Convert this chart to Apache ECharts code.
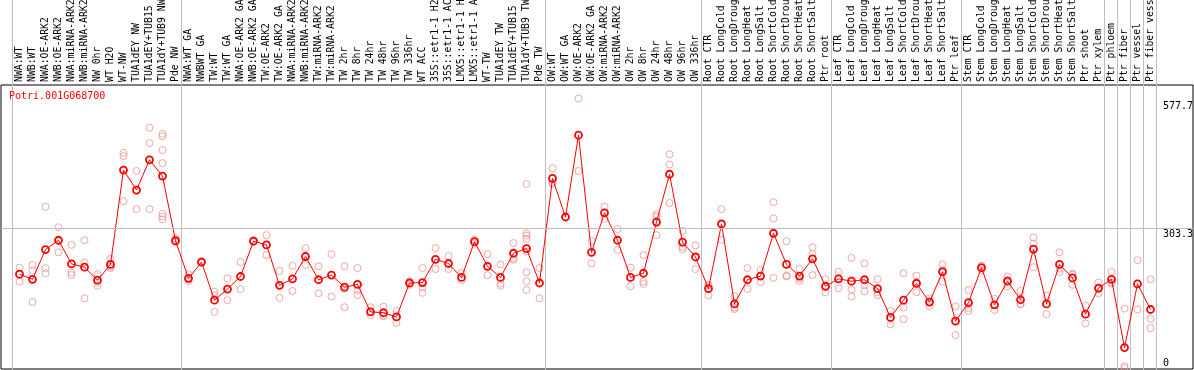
<!DOCTYPE html>
<html>
<head>
<meta charset="utf-8">
<script src="https://cdn.jsdelivr.net/npm/echarts@6/dist/echarts.min.js"></script>
<style>html,body{margin:0;padding:0;background:#fff;}#c{width:1194px;height:370px;}</style>
</head>
<body>
<div id="c"></div>
<script>
const title = 'Potri.001G068700';
const categories = [
'NWA:WT','NWB:WT','NWA:OE-ARK2','NWB:OE-ARK2','NWA:miRNA-ARK2','NWB:miRNA-ARK2','NW 0hr','WT H2O','WT-NW','TUA1dEY NW','TUA1dEY+TUB15 NW','TUA1dY+TUB9 NW','Pde NW',
'NWA:WT GA','NWBWT GA','TW:WT','TW:WT GA','NWA:OE-ARK2 GA','NWB:OE-ARK2 GA','TW:OE-ARK2','TW:OE-ARK2 GA','NWA:miRNA-ARK2 GA','NWB:miRNA-ARK2 GA','TW:miRNA-ARK2','TW:miRNA-ARK2','TW 2hr','TW 8hr','TW 24hr','TW 48hr','TW 96hr','TW 336hr','WT ACC','35S::etr1-1 H2O','35S::etr1-1 ACC','LMX5::etr1-1 H2O','LMX5::etr1-1 ACC','WT-TW','TUA1dEY TW','TUA1dEY+TUB15 TW','TUA1dY+TUB9 TW','Pde TW',
'OW:WT','OW:WT GA','OW:OE-ARK2','OW:OE-ARK2 GA','OW:miRNA-ARK2','OW:miRNA-ARK2','OW 2hr','OW 8hr','OW 24hr','OW 48hr','OW 96hr','OW 336hr',
'Root CTR','Root LongCold','Root LongDrought','Root LongHeat','Root LongSalt','Root ShortCold','Root ShortDrought','Root ShortHeat','Root ShortSalt','Ptr root',
'Leaf CTR','Leaf LongCold','Leaf LongDrought','Leaf LongHeat','Leaf LongSalt','Leaf ShortCold','Leaf ShortDrought','Leaf ShortHeat','Leaf ShortSalt','Ptr leaf',
'Stem CTR','Stem LongCold','Stem LongDrought','Stem LongHeat','Stem LongSalt','Stem ShortCold','Stem ShortDrought','Stem ShortHeat','Stem ShortSalt','Ptr shoot','Ptr xylem',
'Ptr phloem','Ptr fiber','Ptr vessel','Ptr fiber vessel'
];
const means = [
204,193,257,277,226,219,191,225,428,385,450,415,276,
195,230,148,172,199,275,267,180,194,242,192,202,176,182,123,121,112,185,186,236,227,197,274,221,197,249,259,185,
410,327,503,251,336,277,197,206,316,419,273,241,
173,312,140,192,200,292,225,200,237,178,
194,189,192,173,111,148,184,144,209,103,
143,218,138,189,149,258,140,225,196,118,174,
193,46,183,128
];
const replicates = [
[218,188,204],[224,212,144],[349,217,206],[305,251,275],[267,207,202],[277,229,152],[204,186,179],[237,220,217],[465,458,361],[426,344],[519,486,344],[506,501,471,443,334,328,322],[281,274,273],
[204,189,193],[232,229],[166,158,123],[195,148],[230,172],[277,274],[288,245],[211,153],[222,168],[260,224],[221,163],[247,156],[221,172,133],[217,170,159],[133,116],[134,115,114],[125,99],[189,181],[217,175,164],[260,215],[243,215],[207,191],[278,270],[247,202],[225,184,179],[271,238,235],[398,292,287,280,253,208,189,170],[217,152],
[432,400,399],[327],[582,426],[275,227],[349,323],[301,256],[218,178],[245,188,183],[333,328,288],[462,440,357],[297,263,258],[266,215],
[181,158,179],[344,278],[157,132,129],[217,172],[213,187],[359,324,196],[275,201,199],[215,195,190],[262,248,202],[193,165,176],
[209,174],[239,171,156],[227,181,167],[193,165,159],[125,96],[206,132,107],[201,165,187],[152,135,145],[225,188,213],[135,73],
[170,131,125],[223,213,218],[151,127],[199,178,191],[168,139,140],[283,270,219],[158,118],[251,209,216],[205,181,203],[136,98],[186,163,172],
[209,184,186],[130,6,2],[234,128],[193,108,88]
];
const groupStarts = [0,13,41,53,63,73,84,85,86,87];
const yTicks = [0, 303.3, 577.7];
const refLine = 303.3;
const yMax = 611;

const mono = 'DejaVu Sans Mono';
const repData = [];
replicates.forEach((arr, i) => arr.forEach(v => repData.push([i, v])));
const sepData = groupStarts.map(i => [i, -8]);
sepData.push([categories.length - 1, 5]);

const chart = echarts.init(document.getElementById('c'), null, {renderer: 'canvas'});
chart.setOption({
  animation: false,
  backgroundColor: '#fff',
  title: {
    text: title, left: 9, top: 91, padding: 0,
    textStyle: {color: '#ff0000', fontSize: 10, fontWeight: 'normal', fontFamily: mono}
  },
  grid: [
    {left: 1, right: 1, top: 85, bottom: 1, show: true, borderColor: '#000', borderWidth: 1,
     backgroundColor: 'rgba(0,0,0,0)', containLabel: false, outerBoundsMode: 'none'},
    {left: 13, right: 37, top: 85, bottom: 1, containLabel: false, outerBoundsMode: 'none'}
  ],
  xAxis: [
    {gridIndex: 0, type: 'value', min: 0, max: 1, show: false},
    {gridIndex: 1, type: 'category', position: 'top', data: categories, boundaryGap: true,
     axisLine: {show: false}, axisTick: {show: false}, splitLine: {show: false},
     axisLabel: {interval: 0, rotate: 90, margin: 3, fontSize: 9.8, fontFamily: mono, color: '#000'}}
  ],
  yAxis: [
    {gridIndex: 0, type: 'value', min: 0, max: yMax, show: false},
    {gridIndex: 1, type: 'value', position: 'right', min: 0, max: yMax,
     axisLine: {show: false}, axisTick: {show: false}, splitLine: {show: false},
     axisLabel: {
       customValues: yTicks, margin: 6, align: 'left', verticalAlign: 'middle',
       fontSize: 10, fontFamily: mono, color: '#000',
       formatter: v => (v === 0 ? '{b|0}' : '{t|' + v + '}'),
       rich: {
         t: {padding: [12, 0, 0, 0], fontSize: 10, fontFamily: mono, color: '#000'},
         b: {padding: [0, 0, 12, 0], fontSize: 10, fontFamily: mono, color: '#000'}
       }
     }}
  ],
  series: [
    {type: 'line', xAxisIndex: 0, yAxisIndex: 0, data: [], silent: true,
     markLine: {silent: true, symbol: 'none', label: {show: false},
       lineStyle: {color: '#c0c0c0', type: 'solid', width: 1}, data: [{yAxis: refLine}]}},
    {type: 'custom', xAxisIndex: 1, yAxisIndex: 1, silent: true, data: sepData,
     renderItem: (params, api) => {
       const x = Math.round(api.coord([api.value(0), 0])[0] + api.value(1)) + 0.5;
       return {type: 'line', shape: {x1: x, y1: 0, x2: x, y2: 370},
               style: {stroke: '#c0c0c0', lineWidth: 1}};
     }},
    {type: 'scatter', xAxisIndex: 1, yAxisIndex: 1, data: repData, silent: true,
     symbol: 'circle', symbolSize: 7,
     itemStyle: {color: 'rgba(0,0,0,0)', borderColor: '#ea9494', borderWidth: 1}},
    {type: 'line', xAxisIndex: 1, yAxisIndex: 1, data: means, silent: true,
     symbol: 'circle', symbolSize: 7, showAllSymbol: true,
     lineStyle: {color: '#ff0000', width: 1},
     itemStyle: {color: 'rgba(0,0,0,0)', borderColor: '#ff0000', borderWidth: 1.8}}
  ]
});
</script>
</body>
</html>
